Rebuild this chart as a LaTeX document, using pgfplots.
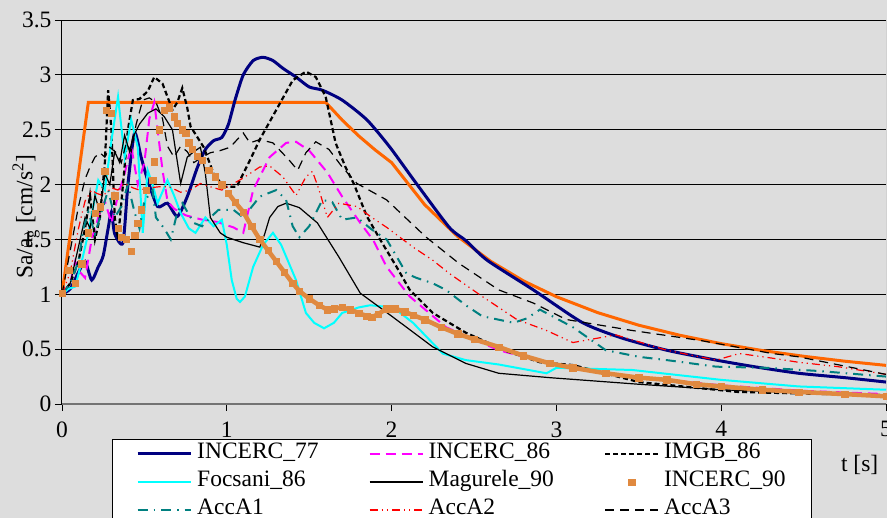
\documentclass[border=0pt]{standalone}
\usepackage{pgfplots}
\pgfplotsset{compat=1.18}
\usepackage{pgfplotstable}
\usepackage{fontspec}
\setmainfont{Liberation Serif}

\definecolor{bggray}{RGB}{221,221,221}
\definecolor{navy77}{RGB}{0,0,128}
\definecolor{design}{RGB}{255,102,0}
\definecolor{sq90}{RGB}{224,137,63}
\definecolor{tealA1}{RGB}{0,128,128}
\definecolor{cyanF}{RGB}{0,255,255}
\definecolor{magB}{RGB}{255,0,255}
\definecolor{redB}{RGB}{255,0,0}

\pgfplotsset{sqlegend/.style={legend image code/.code={\draw[mark repeat=2, mark phase=2, ##1] plot coordinates {(0pt,0pt) (26.5pt,0pt) (53pt,0pt)};}}}

% design spectrum (not in legend)
\pgfplotstableread{
x y
0 1
0.16 2.75
1.6 2.75
1.7 2.588
1.8 2.444
1.9 2.316
2.0 2.2
2.2 1.818
2.4 1.528
2.6 1.302
2.8 1.122
3.0 0.978
3.25 0.833
3.5 0.718
3.75 0.626
4.0 0.55
4.25 0.487
4.5 0.435
4.75 0.39
5.0 0.352
}\design

\pgfplotstableread{
x y
0 1
0.05 1.05
0.1 1.2
0.14 1.3
0.18 1.13
0.22 1.25
0.25 1.35
0.28 1.6
0.3 1.75
0.32 1.55
0.37 1.47
0.4 2.0
0.44 2.47
0.48 2.25
0.52 2.04
0.58 1.80
0.64 1.83
0.70 1.71
0.76 1.89
0.82 2.15
0.87 2.32
0.92 2.40
0.97 2.43
1.01 2.55
1.05 2.77
1.1 3.0
1.16 3.13
1.22 3.16
1.28 3.13
1.34 3.06
1.42 2.98
1.50 2.89
1.58 2.86
1.70 2.77
1.85 2.59
1.99 2.34
2.15 2.01
2.35 1.61
2.45 1.49
2.58 1.31
2.86 1.04
3.16 0.74
3.4 0.6
3.67 0.49
3.97 0.40
4.2 0.34
4.47 0.28
4.75 0.24
5.0 0.20
}\incercA

\pgfplotstableread{
x y
0 1
0.05 1.1
0.08 1.3
0.11 1.2
0.14 1.15
0.18 1.5
0.22 1.7
0.26 1.85
0.3 1.65
0.34 1.9
0.38 2.1
0.42 2.35
0.46 2.0
0.5 2.2
0.53 2.6
0.56 2.75
0.58 2.5
0.61 2.13
0.64 1.85
0.68 1.78
0.75 1.72
0.85 1.68
0.94 1.66
1.04 1.61
1.1 1.56
1.16 1.95
1.26 2.25
1.36 2.38
1.42 2.39
1.50 2.31
1.61 2.11
1.70 1.89
1.81 1.65
1.89 1.49
1.97 1.25
2.11 0.98
2.33 0.70
2.65 0.49
2.96 0.37
3.4 0.26
4.0 0.17
4.5 0.12
5.0 0.09
}\incercB

\pgfplotstableread{
x y
0 1
0.05 1.1
0.1 1.3
0.14 1.6
0.17 1.9
0.2 1.5
0.23 1.7
0.26 2.2
0.28 2.86
0.3 2.5
0.32 1.7
0.34 1.5
0.37 2.0
0.4 2.5
0.43 2.77
0.47 2.78
0.52 2.85
0.56 2.98
0.61 2.92
0.67 2.68
0.70 2.75
0.73 2.88
0.76 2.7
0.78 2.53
0.86 2.34
0.92 2.1
0.98 1.98
1.06 1.98
1.14 2.22
1.2 2.41
1.3 2.68
1.40 2.95
1.48 3.03
1.54 2.98
1.6 2.8
1.66 2.38
1.72 2.16
1.77 2.01
1.85 1.71
1.93 1.50
2.03 1.25
2.11 1.04
2.25 0.83
2.45 0.65
2.7 0.48
2.9 0.38
3.1 0.355
3.5 0.2
4.1 0.11
4.5 0.095
5.0 0.08
}\imgb

\pgfplotstableread{
x y
0 1
0.04 1.05
0.08 1.07
0.12 1.3
0.16 1.56
0.19 1.8
0.22 2.04
0.26 1.95
0.30 2.4
0.34 2.8
0.38 2.25
0.42 2.59
0.46 2.34
0.49 1.56
0.52 2.13
0.55 2.0
0.58 1.83
0.64 2.04
0.68 1.9
0.72 1.74
0.77 1.6
0.81 1.56
0.87 1.70
0.92 1.62
0.97 1.68
1.0 1.45
1.03 1.13
1.06 0.96
1.08 0.93
1.11 0.98
1.16 1.25
1.22 1.45
1.28 1.56
1.33 1.45
1.42 1.13
1.48 0.83
1.53 0.74
1.59 0.69
1.65 0.74
1.70 0.83
1.8 0.88
1.87 0.9
2.01 0.88
2.13 0.74
2.31 0.46
2.45 0.4
2.65 0.36
2.94 0.28
3.0 0.33
3.46 0.31
4.0 0.22
4.47 0.16
5.0 0.13
}\focsani

\pgfplotstableread{
x y
0 1
0.05 1.1
0.08 1.3
0.11 1.5
0.14 1.7
0.17 1.6
0.2 1.9
0.23 1.75
0.26 2.1
0.29 2.0
0.32 2.3
0.35 2.2
0.38 2.45
0.41 2.3
0.43 2.43
0.47 2.55
0.52 2.65
0.57 2.69
0.62 2.62
0.67 2.5
0.72 2.01
0.76 2.25
0.80 2.3
0.84 2.34
0.87 2.1
0.90 1.70
0.96 1.56
1.0 1.52
1.10 1.47
1.2 1.43
1.23 1.55
1.26 1.70
1.31 1.8
1.36 1.83
1.44 1.79
1.55 1.65
1.68 1.34
1.81 1.01
2.01 0.79
2.25 0.52
2.45 0.37
2.65 0.28
2.96 0.24
3.5 0.18
4.0 0.13
4.5 0.1
5.0 0.08
}\magurele

\pgfplotstableread{
x y
0 1.01
0.04 1.22
0.08 1.1
0.12 1.28
0.16 1.56
0.20 1.74
0.23 1.8
0.26 2.12
0.27 2.68
0.30 2.65
0.32 1.90
0.34 1.6
0.36 1.52
0.39 1.5
0.42 1.39
0.44 1.54
0.46 1.65
0.48 1.77
0.51 1.95
0.55 2.04
0.56 2.21
0.59 2.50
0.62 2.68
0.65 2.70
0.68 2.62
0.70 2.56
0.73 2.50
0.75 2.47
0.77 2.38
0.79 2.32
0.82 2.26
0.85 2.22
0.89 2.13
0.93 2.07
0.97 2.0
1.01 1.92
1.05 1.84
1.1 1.75
1.15 1.62
1.2 1.50
1.25 1.40
1.3 1.30
1.35 1.2
1.4 1.1
1.44 1.03
1.5 0.96
1.56 0.9
1.61 0.86
1.65 0.87
1.70 0.88
1.75 0.86
1.80 0.83
1.85 0.80
1.88 0.79
1.92 0.82
1.97 0.87
2.02 0.87
2.08 0.84
2.13 0.81
2.2 0.77
2.3 0.70
2.4 0.64
2.5 0.59
2.65 0.52
2.8 0.44
2.96 0.37
3.1 0.33
3.3 0.28
3.5 0.24
3.67 0.22
3.85 0.18
4.0 0.16
4.25 0.13
4.47 0.11
4.75 0.09
5.0 0.07
}\incercC

\pgfplotstableread{
x y
0 1
0.05 1.1
0.1 1.3
0.13 1.6
0.16 1.75
0.2 1.55
0.24 1.75
0.28 1.95
0.32 1.7
0.36 1.8
0.4 2.0
0.44 1.75
0.47 1.6
0.5 1.85
0.55 1.95
0.57 1.70
0.62 1.6
0.66 1.5
0.70 1.75
0.73 1.83
0.8 1.65
0.85 1.62
0.90 1.70
0.95 1.77
1.04 1.77
1.1 1.70
1.2 1.89
1.30 1.95
1.36 1.86
1.40 1.62
1.44 1.52
1.50 1.62
1.58 1.86
1.64 1.84
1.70 1.68
1.79 1.70
1.88 1.59
1.97 1.50
2.09 1.19
2.15 1.15
2.25 1.10
2.33 1.04
2.45 0.9
2.55 0.80
2.74 0.74
2.82 0.78
2.90 0.86
3.0 0.78
3.1 0.70
3.3 0.49
3.5 0.43
3.67 0.40
3.97 0.34
4.27 0.33
4.6 0.3
5.0 0.25
}\accA

\pgfplotstableread{
x y
0 1
0.05 1.2
0.1 1.6
0.14 1.85
0.18 1.95
0.21 1.92
0.25 1.9
0.3 1.97
0.34 1.95
0.38 2.01
0.43 1.97
0.47 1.95
0.53 1.97
0.59 1.98
0.65 1.98
0.72 1.93
0.78 1.95
0.84 2.01
0.9 1.98
0.97 1.95
1.03 2.0
1.10 2.06
1.2 2.16
1.26 2.17
1.34 2.07
1.42 1.90
1.48 2.07
1.52 2.12
1.56 1.95
1.61 1.70
1.68 1.83
1.79 1.80
1.88 1.70
1.97 1.61
2.13 1.43
2.25 1.31
2.35 1.19
2.55 0.98
2.76 0.77
2.94 0.67
3.10 0.56
3.25 0.6
3.36 0.63
3.67 0.49
3.97 0.40
4.11 0.46
4.3 0.42
4.47 0.38
4.71 0.34
5.0 0.27
}\accB

\pgfplotstableread{
x y
0 1
0.05 1.4
0.1 1.8
0.14 2.05
0.17 2.16
0.2 2.25
0.23 2.29
0.26 2.25
0.29 2.34
0.33 2.29
0.36 2.2
0.39 2.38
0.42 2.3
0.45 2.55
0.49 2.77
0.53 2.79
0.57 2.75
0.61 2.6
0.64 2.35
0.68 2.25
0.72 2.35
0.76 2.3
0.8 2.2
0.85 2.25
0.90 2.29
0.96 2.31
1.02 2.34
1.10 2.47
1.14 2.38
1.2 2.41
1.28 2.38
1.38 2.22
1.43 2.13
1.48 2.29
1.54 2.39
1.62 2.32
1.70 2.16
1.79 2.01
1.97 1.86
2.21 1.52
2.41 1.28
2.65 1.04
2.86 0.92
3.06 0.77
3.46 0.67
3.87 0.58
4.31 0.46
4.47 0.43
5.0 0.27
}\accC

\begin{document}
\begin{tikzpicture}
\fill[bggray] (-62pt,-114pt) rectangle (825pt,404pt);
\begin{axis}[
  scale only axis, width=824pt, height=384pt,
  xmin=0, xmax=5, ymin=0, ymax=3.5,
  xtick={0,1,2,3,4,5}, ytick={0,0.5,1,1.5,2,2.5,3,3.5},
  axis x line*=bottom, axis y line*=left,
  x axis line style={black!55, line width=1.3pt},
  y axis line style={black, line width=1pt},
  tick align=outside, major tick length=7pt,
  tick style={black, line width=0.8pt},
  ymajorgrids, major grid style={black, line width=0.8pt},
  /pgf/number format/assume math mode=true,
  tick label style={font=\fontsize{23.5}{28}\selectfont},
  xticklabel style={yshift=-7pt},
  xlabel={t [s]},
  xlabel style={at={(axis description cs:0.968,-0.159)}, anchor=center, font=\fontsize{23.5}{28}\selectfont},
  ylabel={Sa/a\textsubscript{g} [cm/s\textsuperscript{2}]},
  ylabel style={at={(axis description cs:-0.0437,0.487)}, anchor=center, font=\fontsize{23.5}{28}\selectfont},
  legend columns=3, legend cell align=left,
  legend image code/.code={\draw[#1] (0pt,0pt) -- (53pt,0pt);},
  legend style={at={(axis description cs:0.0607,-0.0904)}, anchor=north west,
    draw=black, fill=white, font=\fontsize{23.5}{28}\selectfont,
    inner xsep=24pt, inner ysep=1pt,
    nodes={inner sep=2pt, text height=17pt, text depth=7pt},
    /tikz/every even column/.append style={column sep=48pt},
    /tikz/every odd column/.append style={column sep=3pt}},
]
\addplot[design, line width=3pt, forget plot] table {\design};
\addplot[navy77, line width=3pt, smooth, tension=0.4] table {\incercA};
\addlegendentry{INCERC\_77}
\addplot[magB, line width=2pt, dash pattern=on 10pt off 6pt] table {\incercB};
\addlegendentry{INCERC\_86}
\addplot[black, line width=2.2pt, dash pattern=on 5pt off 3pt] table {\imgb};
\addlegendentry{IMGB\_86}
\addplot[cyanF, line width=2pt] table {\focsani};
\addlegendentry{Focsani\_86}
\addplot[black, line width=1.2pt] table {\magurele};
\addlegendentry{Magurele\_90}
\addplot[sq90, line width=4.5pt, restrict x to domain=1:5, forget plot] table {\incercC};
\addplot[only marks, mark=square*, mark size=3.2pt, mark options={draw=sq90, fill=sq90}, sqlegend]
  table {\incercC};
\addlegendentry{INCERC\_90}
\addplot[tealA1, line width=2pt, dash pattern=on 10pt off 6pt on 1.5pt off 6pt] table {\accA};
\addlegendentry{AccA1}
\addplot[redB, line width=1.2pt, dash pattern=on 8pt off 4pt on 1.2pt off 4pt on 1.2pt off 4pt] table {\accB};
\addlegendentry{AccA2}
\addplot[black, line width=1.2pt, dash pattern=on 9pt off 6pt] table {\accC};
\addlegendentry{AccA3}
\draw[black!50, line width=1pt] (rel axis cs:1,0) -- (rel axis cs:1,1);
\end{axis}
\pgfresetboundingbox
\path[use as bounding box] (-62pt,-114pt) rectangle (825pt,404pt);
\end{tikzpicture}
\end{document}
